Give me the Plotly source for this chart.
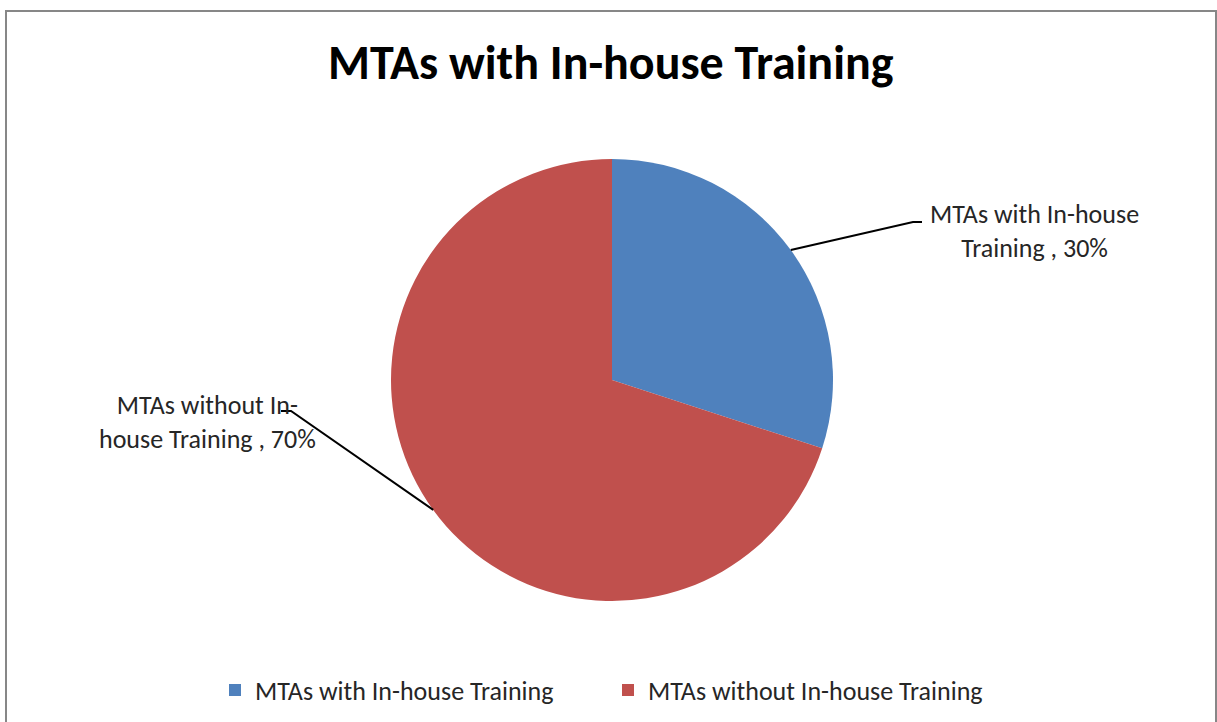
import math
import plotly.graph_objects as go

W, H = 1217, 722

# data
labels = ['MTAs with In-house Training', 'MTAs without In-house Training']
values = [30, 70]
colors = ['#4F81BD', '#C0504D']
label_texts = ['MTAs with In-house<br>Training , 30%', 'MTAs without In-<br>house Training , 70%']
title_text = 'MTAs with In-house Training'

FONT = 'Calibri, Carlito, Lato, sans-serif'

# pie geometry in pixels
cx, cy, r = 612, 380, 221


def px(x, y):
    # pixel -> paper coords (margins are 0)
    return x / W, 1 - y / H


x0, y1 = px(cx - r, cy - r)
x1, y0 = px(cx + r, cy + r)

fig = go.Figure(go.Pie(
    labels=labels,
    values=values,
    marker=dict(colors=colors, line=dict(width=0)),
    sort=False,
    direction='clockwise',
    rotation=0,
    textinfo='none',
    hoverinfo='label+percent',
    domain=dict(x=[x0, x1], y=[y0, y1]),
))

# anchor points on the pie rim at each slice's mid angle
total = sum(values)
cum = 0
anchors = []
for v in values:
    mid = (cum + v / 2) / total * 2 * math.pi
    anchors.append((cx + r * math.sin(mid), cy - r * math.cos(mid)))
    cum += v

# label boxes: (elbow point, end point, text centre)
label_pos = [
    ((913, 222), (922, 222), (1034, 231)),
    ((291, 411), (281, 411), (207, 422)),
]

shapes = [dict(type='rect', xref='paper', yref='paper',
               x0=6 / W, x1=1216 / W, y0=-0.05, y1=1 - 11 / H,
               line=dict(color='#878787', width=2), fillcolor='rgba(0,0,0,0)')]
annotations = []
for (ax, ay), (elbow, end, centre), txt in zip(anchors, label_pos, label_texts):
    pts = [px(ax, ay), px(*elbow), px(*end)]
    path = 'M {} {} L {} {} L {} {}'.format(*[c for p in pts for c in p])
    shapes.append(dict(type='path', xref='paper', yref='paper', path=path,
                       line=dict(color='black', width=2)))
    tx_, ty_ = px(*centre)
    annotations.append(dict(x=tx_, y=ty_, xref='paper', yref='paper', text=txt,
                            xanchor='center', yanchor='middle',
                            showarrow=False, align='center',
                            font=dict(family=FONT, size=26, color='#262626')))

tx_, ty_ = px(611, 63)
annotations.append(dict(x=tx_, y=ty_, xref='paper', yref='paper',
                        xanchor='center', yanchor='middle',
                        text='<b>' + title_text + '</b>', showarrow=False,
                        font=dict(family=FONT, size=48, color='black')))

lx, ly = px(215, 690)
fig.update_layout(
    width=W, height=H,
    margin=dict(l=0, r=0, t=0, b=0),
    paper_bgcolor='white',
    plot_bgcolor='white',
    shapes=shapes,
    annotations=annotations,
    showlegend=True,
    legend=dict(orientation='h', x=lx, y=ly, xanchor='left', yanchor='middle',
                font=dict(family=FONT, size=26, color='#262626'),
                entrywidth=348, entrywidthmode='pixels',
                bgcolor='rgba(0,0,0,0)'),
)

fig.write_html('out.html', config={'displayModeBar': False},
               post_script="document.body.style.margin='0';")
